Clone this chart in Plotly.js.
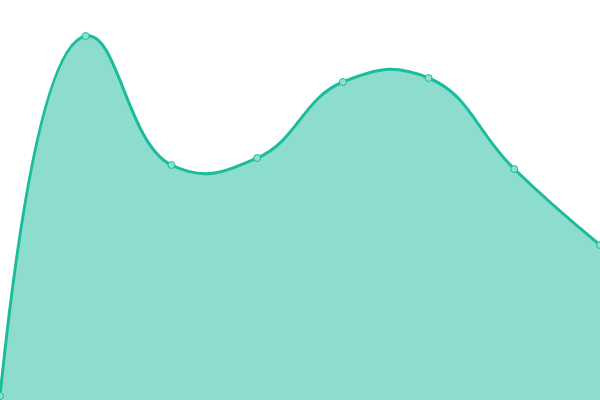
<!DOCTYPE html>
<html>
<head>
<meta charset="utf-8">
<script src="https://cdn.plot.ly/plotly-3.0.1.min.js"></script>
<style>html,body{margin:0;padding:0;background:#fff;}#chart{width:600px;height:400px;}</style>
</head>
<body>
<div id="chart"></div>
<script>
const categories = [0, 1, 2, 3, 4, 5, 6, 7];
const values = [4, 364, 235, 242, 318, 322, 231, 155];

const trace = {
  x: categories,
  y: values,
  type: 'scatter',
  mode: 'lines+markers',
  fill: 'tozeroy',
  fillcolor: 'rgba(26,188,156,0.5)',
  line: {shape: 'spline', smoothing: 1.3, color: '#1abc9c', width: 3},
  marker: {size: 7, color: '#8fe0cf', line: {color: '#1abc9c', width: 1}},
  hoverinfo: 'none',
  cliponaxis: false
};

const layout = {
  width: 600, height: 400,
  margin: {l: 0, r: 0, t: 0, b: 0, pad: 0},
  paper_bgcolor: '#ffffff', plot_bgcolor: '#ffffff',
  showlegend: false,
  xaxis: {range: [0, 7], visible: false, fixedrange: true},
  yaxis: {range: [0, 400], visible: false, fixedrange: true}
};

Plotly.newPlot('chart', [trace], layout, {displayModeBar: false, staticPlot: true});
</script>
</body>
</html>
